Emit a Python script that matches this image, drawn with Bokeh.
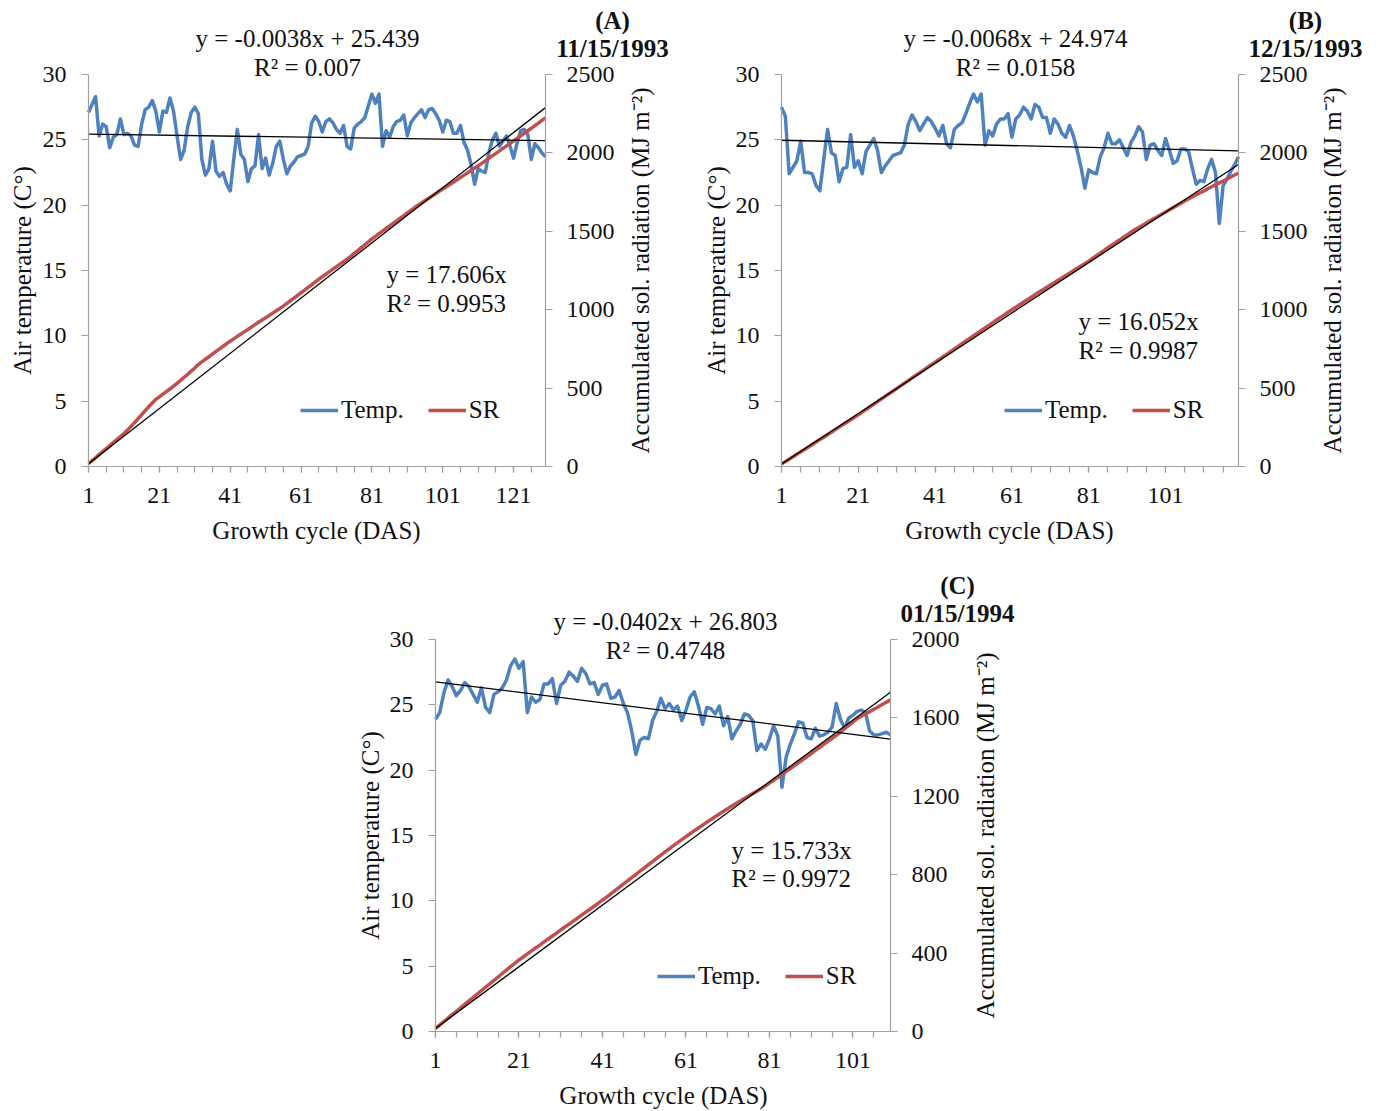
from bokeh.plotting import figure
from bokeh.models import Range1d, LinearAxis, FixedTicker, Label, Legend, LegendItem, Spacer
from bokeh.layouts import column, row
from bokeh.embed import file_html
from bokeh.resources import INLINE

FONT = "Liberation Serif"
BLUE = "#4F81BD"
RED = "#C0504D"
AXIS = "#A0A0A0"
TXT = "#111111"

# ---------------- data ----------------
temp_a = [27.1, 27.7, 28.3, 25.3, 26.2, 26.0, 24.4, 25.2, 25.4, 26.6,
          25.4, 25.5, 25.3, 24.6, 24.5, 26.2, 27.3, 27.5, 28.0, 27.2,
          25.6, 27.2, 27.1, 28.2, 27.2, 25.3, 23.5, 24.2, 26.0, 27.1,
          27.5, 27.0, 23.5, 22.3, 22.8, 24.9, 22.6, 22.2, 22.5, 21.6,
          21.1, 23.5, 25.8, 23.9, 23.5, 21.8, 22.8, 23.0, 25.4, 22.8,
          23.6, 22.3, 23.2, 24.5, 24.9, 23.5, 22.4, 23.0, 23.3, 23.7,
          23.8, 23.9, 24.5, 26.3, 26.8, 26.4, 25.6, 26.4, 26.6, 26.3,
          25.8, 25.5, 26.1, 24.5, 24.3, 25.9, 26.2, 26.4, 26.7, 27.6,
          28.5, 27.8, 28.5, 24.5, 25.7, 25.2, 26.0, 26.4, 26.5, 26.9,
          25.3, 26.3, 26.7, 27.0, 27.3, 26.7, 27.3, 27.4, 27.0, 26.5,
          25.6, 26.5, 26.4, 25.5, 25.5, 26.1, 24.8, 24.2, 23.1, 21.6,
          22.8, 22.6, 22.5, 24.0, 25.0, 25.5, 24.5, 24.9, 25.3, 24.5,
          23.6, 24.8, 25.7, 25.8, 25.4, 23.5, 24.7, 24.4, 24.0, 23.7]
sr_a = [18, 37, 56, 76, 95, 114, 133, 152, 172, 191,
        210, 232, 256, 280, 305, 330, 356, 381, 405, 428,
        444, 461, 478, 494, 512, 530, 549, 569, 588, 608,
        628, 650, 667, 684, 700, 717, 734, 750, 767, 784,
        799, 814, 830, 845, 860, 874, 890, 905, 920, 934,
        949, 963, 978, 993, 1008, 1023, 1040, 1057, 1074, 1091,
        1108, 1125, 1142, 1159, 1177, 1194, 1210, 1226, 1243, 1259,
        1275, 1291, 1307, 1323, 1340, 1359, 1377, 1396, 1414, 1433,
        1451, 1468, 1485, 1501, 1518, 1534, 1551, 1567, 1584, 1600,
        1617, 1633, 1650, 1666, 1681, 1696, 1711, 1725, 1740, 1755,
        1769, 1784, 1799, 1813, 1828, 1843, 1858, 1873, 1888, 1903,
        1918, 1933, 1949, 1965, 1981, 1997, 2013, 2029, 2045, 2061,
        2077, 2093, 2109, 2125, 2141, 2157, 2174, 2190, 2207, 2223]

temp_b = [27.5, 26.8, 22.4, 22.9, 23.4, 24.9, 22.5, 22.5, 22.4, 21.5,
          21.1, 23.5, 25.8, 24.0, 23.8, 21.8, 22.8, 22.9, 25.4, 22.9,
          23.4, 22.4, 24.1, 24.6, 25.1, 24.2, 22.5, 23.0, 23.4, 23.8,
          23.9, 24.0, 24.6, 26.2, 26.9, 26.4, 25.7, 26.2, 26.7, 26.4,
          25.9, 25.3, 26.1, 24.7, 24.4, 25.8, 26.1, 26.3, 27.0, 27.8,
          28.5, 27.9, 28.5, 24.6, 25.7, 25.3, 26.2, 26.6, 26.6, 27.0,
          25.2, 26.6, 26.9, 27.5, 27.2, 26.6, 27.7, 27.5, 26.7, 26.7,
          25.5, 26.6, 26.2, 25.5, 25.2, 26.1, 25.3, 24.2, 22.9, 21.3,
          22.7, 22.5, 22.4, 23.7, 24.4, 25.5, 24.7, 24.7, 25.0, 24.4,
          23.8, 24.8, 25.3, 26.0, 25.6, 23.5, 24.6, 24.7, 24.2, 23.8,
          25.1, 24.2, 23.2, 23.4, 24.3, 24.3, 24.1, 22.8, 21.6, 21.9,
          21.8, 22.8, 23.5, 22.5, 18.6, 21.5, 22.0, 22.6, 23.1, 23.7]
sr_b = [15, 31, 46, 62, 78, 93, 109, 124, 140, 156,
        172, 187, 203, 219, 235, 251, 267, 282, 298, 314,
        330, 347, 363, 380, 397, 414, 430, 447, 464, 480,
        497, 514, 531, 548, 565, 582, 598, 615, 632, 649,
        665, 682, 699, 715, 732, 749, 766, 783, 800, 817,
        834, 851, 868, 884, 900, 917, 934, 951, 967, 984,
        1000, 1016, 1032, 1048, 1064, 1079, 1095, 1111, 1126, 1142,
        1157, 1172, 1188, 1203, 1218, 1233, 1249, 1264, 1279, 1294,
        1310, 1327, 1344, 1361, 1378, 1395, 1411, 1428, 1444, 1461,
        1477, 1494, 1510, 1524, 1539, 1553, 1567, 1581, 1595, 1609,
        1623, 1637, 1651, 1665, 1679, 1693, 1707, 1720, 1733, 1746,
        1758, 1771, 1784, 1796, 1809, 1821, 1834, 1847, 1859, 1872]

temp_c = [23.9, 24.4, 25.9, 26.9, 26.4, 25.7, 26.1, 26.7, 26.4, 25.8,
          25.2, 26.3, 24.8, 24.4, 25.8, 26.0, 26.3, 26.9, 28.0, 28.5,
          27.8, 28.3, 24.4, 25.6, 25.2, 25.4, 26.6, 26.6, 27.0, 25.1,
          26.5, 26.8, 27.5, 27.2, 26.8, 27.8, 27.4, 26.6, 26.7, 25.8,
          26.5, 26.6, 25.5, 25.6, 26.1, 25.1, 24.4, 23.0, 21.2, 22.3,
          22.5, 22.4, 23.8, 24.5, 25.5, 24.7, 25.1, 24.6, 24.9, 23.8,
          24.6, 25.6, 26.0, 24.9, 23.5, 24.8, 24.7, 24.3, 24.9, 23.4,
          24.1, 22.4, 23.0, 23.5, 24.3, 24.2, 23.8, 21.5, 22.0, 21.6,
          22.4, 23.4, 22.6, 18.7, 21.0, 22.0, 22.8, 23.7, 23.6, 22.5,
          22.4, 23.2, 22.6, 22.7, 22.9, 23.3, 25.1, 23.9, 23.2, 24.0,
          24.2, 24.5, 24.6, 24.4, 23.0, 22.7, 22.7, 22.8, 22.9, 22.7]
sr_c = [16, 33, 51, 68, 86, 103, 121, 138, 156, 173,
        191, 208, 226, 243, 261, 278, 296, 313, 331, 348,
        365, 380, 396, 411, 426, 441, 457, 472, 487, 502,
        518, 533, 548, 563, 578, 594, 609, 624, 639, 655,
        670, 686, 702, 719, 735, 752, 768, 785, 801, 818,
        834, 851, 867, 884, 900, 916, 932, 948, 964, 979,
        994, 1009, 1024, 1038, 1053, 1068, 1082, 1096, 1110, 1124,
        1137, 1150, 1163, 1176, 1189, 1201, 1214, 1226, 1239, 1252,
        1267, 1282, 1297, 1312, 1327, 1342, 1357, 1372, 1387, 1402,
        1418, 1434, 1449, 1465, 1480, 1496, 1511, 1528, 1545, 1562,
        1579, 1596, 1608, 1620, 1632, 1644, 1656, 1668, 1680, 1692]

# trendline coefficients (slope, intercept) and R^2
temp_fit_a = (-0.0038, 25.439); temp_r2_a = "0.007"
temp_fit_b = (-0.0068, 24.974); temp_r2_b = "0.0158"
temp_fit_c = (-0.0402, 26.803); temp_r2_c = "0.4748"
sr_fit_a = 17.606; sr_r2_a = "0.9953"
sr_fit_b = 16.052; sr_r2_b = "0.9987"
sr_fit_c = 15.733; sr_r2_c = "0.9972"

temp_max = 30
temp_ticks = [0, 5, 10, 15, 20, 25, 30]
sr_ticks_ab = [0, 500, 1000, 1500, 2000, 2500]
sr_ticks_c = [0, 400, 800, 1200, 1600, 2000]
day_labels_a = [1, 21, 41, 61, 81, 101, 121]
day_labels_bc = [1, 21, 41, 61, 81, 101]
panel_tags = ["(A)", "(B)", "(C)"]
sowing_dates = ["11/15/1993", "12/15/1993", "01/15/1994"]
series_names = ["Temp.", "SR"]
y_title = "Air temperature (C°)"
x_title = "Growth cycle (DAS)"
y2_title = "Accumulated sol. radiation (MJ m⁻²)"


def style_axis(ax, tick_out=7):
    ax.axis_label = None
    ax.axis_line_color = AXIS
    ax.axis_line_width = 1.2
    ax.major_tick_line_color = AXIS
    ax.major_tick_line_width = 1.2
    ax.major_tick_out = tick_out
    ax.major_tick_in = 0
    ax.minor_tick_line_color = None
    ax.major_label_text_font = FONT
    ax.major_label_text_font_size = "24px"
    ax.major_label_text_color = TXT


def make_panel(temp, sr, tfit, tr2, sfit, sr2, sr_max, sr_ticks, day_labels, tag, date,
               origin, canvas, plot_box, pos):
    """origin: page position of the canvas; canvas: (w, h);
    plot_box: page pixels (left, right, top, bottom) of the day 1..n / 0..30 area;
    pos: page pixel positions of texts."""
    n = len(temp)
    days = list(range(1, n + 1))
    ox, oy = origin
    cw, ch = canvas
    pl, pr, pt, pb = (plot_box[0] - ox, plot_box[1] - ox, plot_box[2] - oy, plot_box[3] - oy)
    px_day = (pr - pl) / (n - 1)
    px_t = (pb - pt) / temp_max
    x0 = 1 - pl / px_day
    x1 = 1 + (cw - pl) / px_day
    y0 = -(ch - pb) / px_t
    y1 = pb / px_t

    def X(px):
        return x0 + (px - ox) / px_day

    def Y(py):
        return y1 - (py - oy) / px_t

    p = figure(frame_width=cw, frame_height=ch, min_border=0,
               min_border_left=0, min_border_right=0, min_border_top=0, min_border_bottom=0,
               x_range=Range1d(x0, x1), y_range=Range1d(y0, y1),
               output_backend="svg", toolbar_location=None)
    p.extra_y_ranges = {"sr": Range1d(sr_max * y0 / temp_max, sr_max * y1 / temp_max)}
    p.xgrid.visible = False
    p.ygrid.visible = False
    p.outline_line_color = None

    r_t = p.line(days, temp, line_color=BLUE, line_width=3.5, line_join="round")
    r_s = p.line(days, sr, line_color=RED, line_width=3.5, line_join="round", y_range_name="sr")

    a, b = tfit
    p.line([1, n], [a * 1 + b, a * n + b], line_color="black", line_width=1.3)
    p.line([1, n], [sfit * 1, sfit * n], line_color="black", line_width=1.3, y_range_name="sr")

    yl = p.yaxis[0]
    yl.ticker = FixedTicker(ticks=temp_ticks)
    yl.bounds = (0, temp_max)
    yl.fixed_location = 1
    style_axis(yl)
    yl.major_label_standoff = 15

    xa = p.xaxis[0]
    xa.ticker = FixedTicker(ticks=day_labels, minor_ticks=list(range(1, n + 1, 5)))
    xa.bounds = (1, n)
    xa.fixed_location = 0
    style_axis(xa, tick_out=6)
    xa.minor_tick_line_color = AXIS
    xa.minor_tick_line_width = 1.2
    xa.minor_tick_out = 6
    xa.minor_tick_in = 0
    xa.major_label_standoff = 15

    ra = LinearAxis(y_range_name="sr", ticker=FixedTicker(ticks=sr_ticks),
                    bounds=(0, sr_max), fixed_location=n)
    style_axis(ra)
    ra.major_label_standoff = 14
    p.add_layout(ra, "right")

    def lab(xy, text, align="center", bold=False, angle=0):
        p.add_layout(Label(x=X(xy[0]), y=Y(xy[1]), text=text, text_align=align,
                           text_baseline="middle",
                           text_font=FONT, text_font_size="25px", text_color=TXT,
                           text_font_style="bold" if bold else "normal",
                           angle=angle, angle_units="deg"))

    lab(pos["teq1"], f"y = {a}x + {b}")
    lab(pos["teq2"], f"R² = {tr2}")
    lab(pos["seq1"], f"y = {sfit}x", align="left")
    lab(pos["seq2"], f"R² = {sr2}", align="left")
    lab(pos["tag"], tag, bold=True)
    lab(pos["date"], date, bold=True)
    lab(pos["y2t"], y2_title, angle=90)
    lab(pos["yt"], y_title, angle=90)
    lab(pos["xt"], x_title)

    lx, ly = pos["legend"]
    legend = Legend(items=[LegendItem(label=series_names[0], renderers=[r_t]),
                           LegendItem(label=series_names[1], renderers=[r_s])],
                    orientation="horizontal", location=(lx - ox, ch - (ly - oy) - 14),
                    border_line_color=None, background_fill_alpha=0,
                    label_text_font=FONT, label_text_font_size="25px", label_text_color=TXT,
                    glyph_width=38, glyph_height=20, label_standoff=3, spacing=24,
                    padding=0, margin=0)
    p.add_layout(legend)
    return p


fa = make_panel(temp_a, sr_a, temp_fit_a, temp_r2_a, sr_fit_a, sr_r2_a, 2500, sr_ticks_ab,
                day_labels_a, panel_tags[0], sowing_dates[0],
                (0, 0), (694, 560), (88, 545, 74, 466),
                dict(teq1=(307, 38), teq2=(307, 67), seq1=(386, 274), seq2=(386, 303),
                     tag=(612, 20), date=(612, 48), y2t=(640, 270), yt=(22, 270),
                     xt=(316, 530), legend=(300, 410)))
fb = make_panel(temp_b, sr_b, temp_fit_b, temp_r2_b, sr_fit_b, sr_r2_b, 2500, sr_ticks_ab,
                day_labels_bc, panel_tags[1], sowing_dates[1],
                (694, 0), (685, 560), (781, 1238, 74, 466),
                dict(teq1=(1015, 38), teq2=(1015, 67), seq1=(1078, 321), seq2=(1078, 350),
                     tag=(1305, 20), date=(1305, 48), y2t=(1332, 270), yt=(716, 270),
                     xt=(1009, 530), legend=(1004, 410)))
fc = make_panel(temp_c, sr_c, temp_fit_c, temp_r2_c, sr_fit_c, sr_r2_c, 2000, sr_ticks_c,
                day_labels_bc, panel_tags[2], sowing_dates[2],
                (300, 560), (730, 550), (435, 890, 639, 1031),
                dict(teq1=(665, 621), teq2=(665, 650), seq1=(731, 850), seq2=(731, 878),
                     tag=(957, 585), date=(957, 613), y2t=(985, 835), yt=(370, 835),
                     xt=(663, 1095), legend=(657, 976)))

layout = column(row(fa, fb), row(Spacer(width=300, height=10), fc))

with open("out.html", "w") as f:
    f.write(file_html(layout, INLINE, title="Air temperature and accumulated solar radiation"))
